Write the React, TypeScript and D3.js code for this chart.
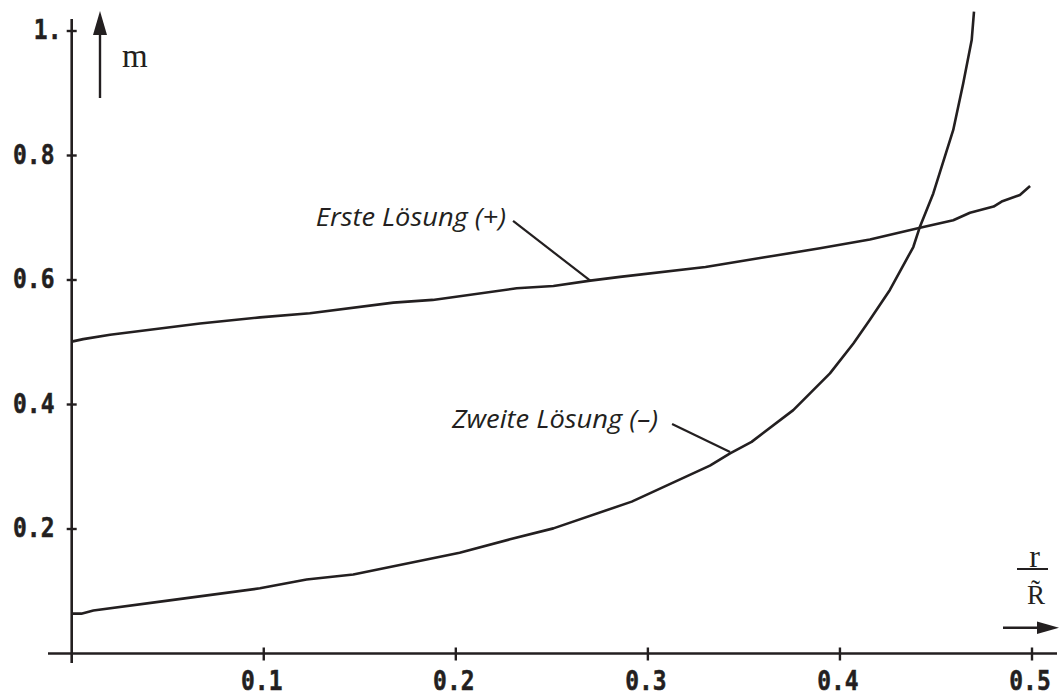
import React from "react";
import * as d3 from "d3";

// ---------- data ----------
const ersteX = [0, 0.003, 0.006, 0.02, 0.0668, 0.098, 0.124, 0.1675, 0.188, 0.2317, 0.2508, 0.27, 0.2855, 0.33, 0.36, 0.3896, 0.4156, 0.4417, 0.459, 0.4677, 0.48, 0.4842, 0.4937, 0.499];
const ersteM = [0.501, 0.503, 0.505, 0.512, 0.53, 0.54, 0.5465, 0.5636, 0.568, 0.5867, 0.5904, 0.599, 0.605, 0.621, 0.636, 0.651, 0.665, 0.684, 0.696, 0.708, 0.718, 0.726, 0.7366, 0.751];

const zweiteX = [0, 0.005, 0.0113, 0.05, 0.098, 0.1223, 0.1466, 0.202, 0.2282, 0.2508, 0.2916, 0.3323, 0.3428, 0.354, 0.3757, 0.3948, 0.407, 0.4156, 0.426, 0.4382, 0.4417, 0.4486, 0.459, 0.4642, 0.4686, 0.4698];
const zweiteM = [0.064, 0.064, 0.069, 0.085, 0.1047, 0.119, 0.127, 0.162, 0.1834, 0.201, 0.244, 0.3017, 0.3216, 0.34, 0.391, 0.45, 0.498, 0.536, 0.584, 0.653, 0.686, 0.739, 0.841, 0.916, 0.9855, 1.031];

const xTickValues = [0, 0.1, 0.2, 0.3, 0.4, 0.5];
const xTickLabels = ["", "0.1", "0.2", "0.3", "0.4", "0.5"];
const yTickValues = [0.2, 0.4, 0.6, 0.8, 1.0];
const yTickLabels = ["0.2", "0.4", "0.6", "0.8", "1."];

const curveLabels = ["Erste Lösung (+)", "Zweite Lösung (–)"];
// label anchor (start of text, baseline) and leader line start/end, in data units
const labelStartX = [0.1271, 0.198];
const labelEndX = [0.2261, 0.3053];
const labelBaseM = [0.6867, 0.3618];
const leaderFromX = [0.2298, 0.3126];
const leaderFromM = [0.6948, 0.3687];
const leaderToX = [0.27, 0.3428];
const leaderToM = [0.599, 0.3237];

// ---------- layout ----------
const W = 1059;
const H = 695;
const INK = "#231f20";

export default function App() {
  const x = d3.scaleLinear().domain([0, 0.5]).range([71.7, 1032]);
  const y = d3.scaleLinear().domain([0, 1]).range([653.5, 31]);

  const line = d3
    .line<[number, number]>()
    .x((d) => x(d[0]))
    .y((d) => y(d[1]))
    .curve(d3.curveLinear);

  const erste: [number, number][] = ersteX.map((v, i) => [v, ersteM[i]]);
  const zweite: [number, number][] = zweiteX.map((v, i) => [v, zweiteM[i]]);

  const x0 = x(0);
  const y0 = y(0);

  const tickFont = {
    fontFamily: "'DejaVu Sans Mono', 'Liberation Mono', monospace",
    fontWeight: 700,
    fontSize: 27,
    fill: INK,
    stroke: INK,
    strokeWidth: 0.5,
  } as const;

  return (
    <svg
      width={W}
      height={H}
      viewBox={`0 0 ${W} ${H}`}
      style={{ position: "absolute", left: 0, top: 0, background: "#fff" }}
    >
      {/* axes */}
      <line x1={48} x2={1057} y1={y0} y2={y0} stroke={INK} strokeWidth={2.6} />
      <line x1={x0} x2={x0} y1={19} y2={663} stroke={INK} strokeWidth={2.6} />

      {/* x ticks */}
      {xTickValues.map((v, i) => (
        <g key={"xt" + i}>
          {i > 0 && (
            <line x1={x(v)} x2={x(v)} y1={y0 - 6} y2={y0 + 7} stroke={INK} strokeWidth={2.4} />
          )}
          {xTickLabels[i] && (
            <text
              transform={`translate(${x(v) - 2},690) scale(0.85,1)`}
              textAnchor="middle"
              {...tickFont}
            >
              {xTickLabels[i]}
            </text>
          )}
        </g>
      ))}

      {/* y ticks */}
      {yTickValues.map((v, i) => (
        <g key={"yt" + i}>
          <line x1={x0 - 5} x2={x0 + 5} y1={y(v)} y2={y(v)} stroke={INK} strokeWidth={2.4} />
          <text
            transform={`translate(${yTickLabels[i].endsWith(".") ? 61.5 : 54.5},${y(v) + 8}) scale(0.85,1)`}
            textAnchor="end"
            {...tickFont}
          >
            {yTickLabels[i]}
          </text>
        </g>
      ))}

      {/* y-axis arrow and label m */}
      <line x1={100} x2={100} y1={98} y2={32} stroke={INK} strokeWidth={2.4} />
      <path d="M100,11 L107,35 L93,35 Z" fill={INK} />
      <text x={122} y={67} fontFamily="'Liberation Serif', 'Times New Roman', serif" fontSize={33} fill={INK}>
        m
      </text>

      {/* x-axis arrow and label r / R~ */}
      <line x1={1003} x2={1040} y1={627.7} y2={627.7} stroke={INK} strokeWidth={2.4} />
      <path d="M1059,627.7 L1037,621.5 L1037,634 Z" fill={INK} />
      <text x={1034.5} y={566.5} textAnchor="middle" fontFamily="'Liberation Serif', serif" fontSize={32} fill={INK}>
        r
      </text>
      <line x1={1017} x2={1048} y1={569} y2={569} stroke={INK} strokeWidth={2} />
      <text x={1036} y={604} textAnchor="middle" fontFamily="'Liberation Serif', serif" fontSize={27} fill={INK}>
        {"R\u0303"}
      </text>

      {/* curves */}
      <path d={line(erste) || ""} fill="none" stroke={INK} strokeWidth={2.6} strokeLinejoin="round" />
      <path d={line(zweite) || ""} fill="none" stroke={INK} strokeWidth={2.6} strokeLinejoin="round" />

      {/* curve labels with leader lines */}
      {curveLabels.map((lab, i) => (
        <g key={"cl" + i}>
          <text
            x={x(labelStartX[i])}
            y={y(labelBaseM[i])}
            textLength={x(labelEndX[i]) - x(labelStartX[i])}
            lengthAdjust="spacingAndGlyphs"
            fontFamily="'Open Sans', 'DejaVu Sans', sans-serif"
            fontStyle="italic"
            fontSize={25}
            fill={INK}
          >
            {lab}
          </text>
          <line
            x1={x(leaderFromX[i])}
            y1={y(leaderFromM[i])}
            x2={x(leaderToX[i])}
            y2={y(leaderToM[i])}
            stroke={INK}
            strokeWidth={2.2}
          />
        </g>
      ))}
    </svg>
  );
}
